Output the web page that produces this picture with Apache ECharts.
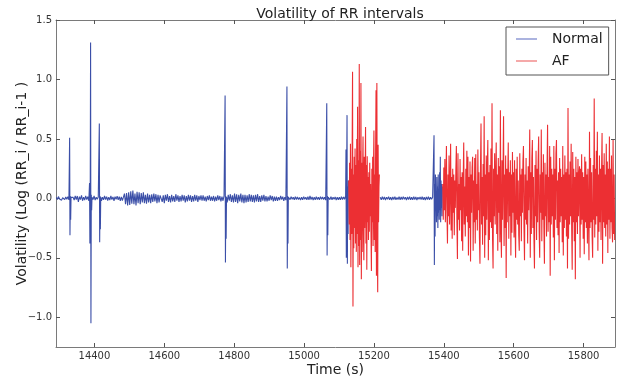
<!DOCTYPE html>
<html><head><meta charset="utf-8">
<script src="https://cdn.jsdelivr.net/npm/echarts@6/dist/echarts.min.js"></script>
<style>html,body{margin:0;padding:0;background:#fff}#c{width:619px;height:379px}</style>
</head><body><div id="c"></div>
<script>
// ---- tick labels ----
const xTicks = [14400, 14600, 14800, 15000, 15200, 15400, 15600, 15800];
const yTicks = [-1.0, -0.5, 0.0, 0.5, 1.0, 1.5];

// ---- Normal rhythm: baseline beats, one value every 3 s ----
const beatStep = 3;
const normalStart1 = 14291;
const normalBase1 = [
  0.01,-0.01,0.015,-0.005,0.01,-0.015,0.005,0.01,-0.01,0.012,
  -0.008,0.015,-0.012,0.01,-0.02,0.012,0.008,-0.015,0.02,-0.01,
  0.02,-0.03,0.015,-0.01,0.025,-0.02,0.01,-0.015,0.02,-0.01,
  0.015,-0.02,0.01,-0.012,0.018,-0.01,0.02,-0.015,0.01,-0.008,
  0.012,-0.01,0.015,-0.02,0.01,-0.012,0.02,-0.01,0.015,-0.018,
  0.01,-0.015,0.02,-0.01,0.012,-0.02,0.015,-0.008,0.018,-0.012,
  0.015,-0.02,0.012,-0.018,0.01,0.04,-0.05,0.045,-0.06,0.05,
  -0.055,0.06,-0.045,0.065,-0.05,0.04,-0.06,0.055,-0.04,0.05,
  -0.05,0.045,-0.035,0.05,-0.04,0.03,-0.045,0.04,-0.035,0.03,
  -0.04,0.035,-0.03,0.04,-0.025,0.035,-0.04,0.03,-0.035,0.025,
  0.035,-0.03,0.025,-0.04,0.03,-0.02,0.035,-0.03,0.02,-0.035,
  0.03,-0.025,0.02,-0.03,0.035,-0.02,0.025,-0.03,0.02,-0.025,
  0.03,-0.02,0.025,-0.035,0.02,-0.025,0.03,-0.02,0.025,-0.03,
  0.02,-0.025,0.03,-0.02,0.025,-0.03,0.02,-0.015,0.025,-0.02,
  0.025,-0.02,0.015,-0.025,0.02,-0.015,0.025,-0.02,0.015,-0.02,
  0.02,-0.025,0.015,-0.02,0.025,-0.015,0.02,-0.025,0.015,-0.02,
  0.02,-0.03,0.025,-0.035,0.03,-0.02,0.035,-0.03,0.025,-0.035,
  0.04,-0.03,0.035,-0.04,0.03,-0.025,0.04,-0.035,0.03,-0.04,
  0.03,-0.035,0.025,-0.03,0.035,-0.025,0.03,-0.03,0.025,-0.035,
  0.03,-0.025,0.035,-0.03,0.02,-0.03,0.025,-0.02,0.03,-0.025,
  0.02,-0.025,0.015,-0.02,0.025,-0.015,0.02,-0.025,0.015,-0.02,
  0.015,-0.02,0.01,-0.015,0.02,-0.01,0.015,-0.02,0.01,-0.015,
  0.01,-0.015,0.012,-0.01,0.015,-0.008,0.01,-0.012,0.015,-0.01,
  0.012,-0.01,0.008,-0.015,0.01,-0.012,0.015,-0.008,0.01,-0.012,
  0.015,-0.012,0.02,-0.01,0.012,-0.015,0.01,-0.012,0.015,-0.01,
  0.01,-0.012,0.015,-0.008,0.012,-0.01,0.01,-0.015,0.012,-0.01,
  0.012,-0.01,0.015,-0.012,0.01,-0.008,0.012,-0.015,0.01,-0.012,
  0.01,-0.012,0.015,-0.01,0.012,-0.008,0.01
];
const normalStart2 = 15218;
const normalBase2 = [
  0.01,-0.012,0.015,-0.01,0.012,-0.015,0.01,-0.008,0.015,-0.012,
  0.01,-0.015,0.012,-0.01,0.015,-0.012,0.008,-0.01,0.015,-0.012,
  0.012,-0.01,0.015,-0.008,0.01,-0.015,0.012,-0.01,0.015,-0.012,
  0.01,-0.012,0.015,-0.01,0.012,-0.015,0.01,-0.008,0.012,-0.01,
  0.015,-0.012,0.01,-0.015,0.012,-0.01,0.015,-0.012,0.01,-0.008,
  0.01
];

// ---- ectopic beats / transitions (Normal label), consecutive beats 1 s apart ----
const ectopicStep = 1;
const ectopicTimes = [14329, 14386, 14414, 14774, 14951, 15065, 15119, 15371];
const ectopicValues = [
  [0.51, -0.31, 0.02, -0.18, 0.01],
  [0.13, -0.38, 0.02, 1.31, -1.05, 0.03, -0.1, 0.01],
  [0.63, -0.37, 0.02, -0.26, 0.01],
  [0.866, -0.54, 0.02, -0.34, 0.01],
  [0.94, -0.59, 0.02, -0.38, 0.01],
  [0.80, -0.48, 0.02, -0.31, 0.01],
  [0.02, 0.41, -0.5, 0.2, 0.70, -0.55, 0.1, -0.3, 0.15],
  [0.02,0.53,-0.56,0.12,-0.32,0.2,-0.1,0.05,-0.2,0.18,-0.15,0.1,-0.25,0.2,-0.12,0.08,-0.18,0.22,-0.1,0.35,-0.2,0.15,-0.08,0.12,-0.15,0.1]
];

// ---- AF episodes ----
const afStart1 = 15128, afStep1 = 1.2;
const afValues1 = [
  0.15,-0.22,0.3,-0.35,0.46,-0.58,0.25,-0.3,0.38,1.065,
  -0.91,0.2,-0.42,0.35,-0.25,0.42,-0.38,0.28,-0.45,0.5,
  -0.3,0.77,-0.58,0.32,-0.4,1.13,-0.56,0.4,-0.35,0.97,
  -0.68,0.3,-0.45,0.25,0.52,-0.3,-0.52,0.35,-0.25,0.2,
  0.6,-0.38,0.28,-0.6,0.355,-0.2,0.18,-0.35,0.22,-0.28,
  0.3,-0.15,0.12,-0.3,-0.61,0.25,-0.2,0.35,-0.4,0.28,
  0.57,-0.35,0.2,-0.45,0.4,0.91,-0.65,0.97,-0.3,-0.79,
  0.45,-0.2,0.1,0.2
];
const afStart2 = 15397, afStep2 = 1.5;
const afValues2 = [
  0.12,-0.18,0.26,-0.1,0.33,-0.2,0.15,0.44,-0.12,-0.38,
  0.2,-0.15,0.36,-0.22,0.1,0.46,-0.27,0.18,-0.34,0.25,
  -0.12,0.2,-0.31,0.15,-0.08,0.24,0.44,-0.2,-0.51,0.38,
  -0.18,0.12,-0.27,0.33,-0.1,0.18,-0.36,0.22,-0.44,0.15,
  0.47,-0.22,0.1,-0.32,0.25,-0.15,0.4,-0.2,0.35,-0.48,
  0.18,-0.25,0.31,-0.53,0.2,-0.12,0.26,0.35,-0.44,0.15,
  -0.2,0.34,-0.38,0.37,-0.18,0.12,-0.27,0.41,-0.1,0.22,
  -0.33,-0.55,0.25,0.63,-0.22,0.18,-0.39,0.29,-0.15,0.69,
  -0.5,0.2,-0.31,0.36,-0.18,0.25,0.49,-0.52,0.22,-0.35,
  0.28,-0.2,0.42,-0.25,0.80,-0.33,-0.59,0.25,-0.15,0.38,
  -0.22,0.18,0.47,-0.3,0.2,-0.44,0.34,-0.12,0.27,-0.37,
  0.74,-0.25,-0.5,0.32,-0.18,0.22,0.69,-0.4,0.2,-0.25,
  0.36,-0.67,0.25,-0.2,0.18,0.47,-0.34,0.22,-0.15,0.32,
  -0.48,0.2,-0.29,0.39,-0.12,0.22,-0.33,0.32,-0.2,-0.5,
  0.25,-0.18,0.35,-0.22,0.15,-0.31,-0.44,0.38,-0.15,0.2,
  -0.36,0.25,-0.12,0.31,0.44,-0.25,-0.52,0.2,-0.18,0.34,
  -0.22,0.15,-0.38,0.27,-0.1,0.2,0.58,-0.5,0.22,-0.3,
  0.33,0.49,-0.25,0.18,-0.34,-0.59,0.28,-0.15,0.4,-0.35,
  0.25,-0.2,0.31,0.52,-0.28,-0.5,0.2,-0.12,0.58,-0.36,
  0.22,-0.18,0.37,-0.25,-0.55,0.3,-0.15,0.2,-0.32,0.25,
  0.62,-0.28,0.18,-0.2,0.44,-0.65,0.35,-0.22,0.25,-0.15,
  0.2,-0.33,0.44,-0.52,0.25,-0.18,0.38,0.49,-0.25,0.15,
  -0.31,0.22,-0.46,0.34,-0.2,0.25,-0.15,0.18,-0.37,0.44,
  -0.48,0.2,-0.25,0.36,-0.18,0.22,-0.32,0.25,-0.59,0.76,
  -0.34,0.2,-0.22,0.31,-0.15,0.46,-0.25,-0.6,0.39,-0.2,
  0.25,-0.36,0.18,-0.68,0.35,-0.2,0.22,-0.3,0.33,-0.15,
  0.2,0.27,-0.5,0.25,-0.22,0.37,-0.18,0.22,-0.34,0.18,
  -0.47,0.35,-0.2,0.31,-0.25,0.2,-0.38,0.25,-0.15,-0.52,
  0.56,-0.25,0.34,-0.2,0.22,-0.31,-0.5,0.28,-0.18,0.84,
  -0.33,0.25,-0.22,0.4,-0.15,0.56,-0.44,0.2,-0.28,0.36,
  -0.2,0.25,-0.35,0.22,0.55,-0.55,0.28,-0.2,0.38,-0.25,
  0.2,-0.32,0.46,-0.22,0.31,-0.46,0.25,-0.18,0.52,-0.34,
  0.25,-0.2,0.36,-0.25,-0.37,0.49,-0.3,0.2,-0.35
];

// ---- build series data ----
function buildNormal() {
  const win = ectopicTimes.map((t, i) => [t - 1.5, t + ectopicValues[i].length * ectopicStep]);
  const inWin = t => win.some(w => t >= w[0] && t <= w[1]);
  const pts = [];
  normalBase1.forEach((v, i) => { const t = normalStart1 + i * beatStep; if (!inWin(t)) pts.push([t, v]); });
  normalBase2.forEach((v, i) => { const t = normalStart2 + i * beatStep; if (!inWin(t)) pts.push([t, v]); });
  ectopicTimes.forEach((t, i) => ectopicValues[i].forEach((v, j) => pts.push([t + j * ectopicStep, v])));
  pts.push([(afStart1 + normalStart2) / 2, '-']);
  pts.sort((a, b) => a[0] - b[0]);
  return pts;
}
function buildAF() {
  const pts = [];
  afValues1.forEach((v, i) => pts.push([afStart1 + i * afStep1, v]));
  pts.push([(normalStart2 + afStart2) / 2, '-']);
  afValues2.forEach((v, i) => pts.push([afStart2 + i * afStep2, v]));
  return pts;
}

const FONT = 'DejaVu Sans';
const spine = '#7a7a7a';
const yFmt = v => (v < 0 ? '\u2212' : '') + Math.abs(v).toFixed(1);
const xFmt = v => String(v);

const chart = echarts.init(document.getElementById('c'), null, { renderer: 'canvas' });
chart.setOption({
  animation: false,
  backgroundColor: '#fff',
  title: {
    text: 'Volatility of RR intervals', left: 335, top: 2, textAlign: 'center',
    textStyle: { fontFamily: FONT, fontSize: 14, fontWeight: 'normal', color: '#222' }
  },
  legend: {
    orient: 'vertical', left: 506, top: 27,
    padding: [4, 6, 6, 10], itemGap: 6, itemWidth: 21, itemHeight: 1.5, icon: 'rect',
    backgroundColor: '#fff', borderColor: '#555', borderWidth: 1, borderRadius: 0,
    textStyle: { fontFamily: FONT, fontSize: 14, color: '#222', lineHeight: 16, padding: [0, 0, 0, 10] },
    data: [
      { name: 'Normal', itemStyle: { color: '#8f9ad4' } },
      { name: 'AF', itemStyle: { color: '#f28c8c' } }
    ]
  },
  grid: { left: 56, right: 4, top: 20, bottom: 32, outerBoundsMode: 'none', containLabel: false },
  xAxis: [{
    type: 'value', min: 14290, max: 15890, position: 'bottom',
    name: 'Time (s)', nameLocation: 'middle', nameGap: 16, nameMoveOverlap: false,
    nameTextStyle: { fontFamily: FONT, fontSize: 14, color: '#222' },
    axisLine: { show: true, onZero: false, lineStyle: { color: spine, width: 1 } },
    axisTick: { show: true, inside: true, length: 4, customValues: xTicks, lineStyle: { color: '#555' } },
    axisLabel: { customValues: xTicks, formatter: xFmt, fontFamily: FONT, fontSize: 10, color: '#333', margin: 4 },
    splitLine: { show: false }
  }, {
    type: 'value', min: 14290, max: 15890, position: 'top',
    axisLine: { show: true, onZero: false, lineStyle: { color: spine, width: 1 } },
    axisTick: { show: true, inside: true, length: 4, customValues: xTicks, lineStyle: { color: '#555' } },
    axisLabel: { show: false }, splitLine: { show: false }
  }],
  yAxis: [{
    type: 'value', min: -1.25, max: 1.5, position: 'left',
    name: 'Volatility (Log (RR_i / RR_i-1 )', nameLocation: 'middle', nameGap: 27, nameMoveOverlap: false,
    nameTextStyle: { fontFamily: FONT, fontSize: 14, color: '#222' },
    axisLine: { show: true, onZero: false, lineStyle: { color: spine, width: 1 } },
    axisTick: { show: true, inside: true, length: 4, customValues: yTicks, lineStyle: { color: '#555' } },
    axisLabel: { customValues: yTicks, formatter: yFmt, fontFamily: FONT, fontSize: 10, color: '#333', margin: 4 },
    splitLine: { show: false }
  }, {
    type: 'value', min: -1.25, max: 1.5, position: 'right',
    axisLine: { show: true, onZero: false, lineStyle: { color: spine, width: 1 } },
    axisTick: { show: true, inside: true, length: 4, customValues: yTicks, lineStyle: { color: '#555' } },
    axisLabel: { show: false }, splitLine: { show: false }
  }],
  series: [{
    name: 'Normal', type: 'line', xAxisIndex: 0, yAxisIndex: 0,
    data: buildNormal(), showSymbol: false, symbol: 'none', connectNulls: false, sampling: null,
    lineStyle: { color: '#3b4fa8', width: 1.1, opacity: 1 }, itemStyle: { color: '#3b4fa8' }
  }, {
    name: 'AF', type: 'line', xAxisIndex: 0, yAxisIndex: 0,
    data: buildAF(), showSymbol: false, symbol: 'none', connectNulls: false, sampling: null,
    lineStyle: { color: '#ec2f33', width: 1.1, opacity: 1 }, itemStyle: { color: '#ec2f33' }
  }]
});
</script>
</body></html>
